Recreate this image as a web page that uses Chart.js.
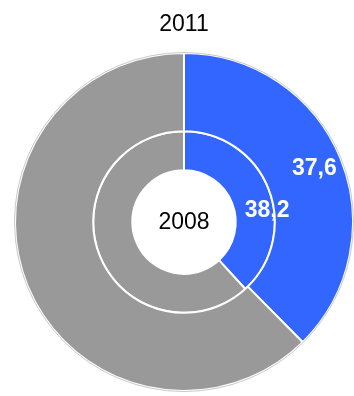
<!DOCTYPE html>
<html>
<head>
<meta charset="utf-8">
<script src="https://cdn.jsdelivr.net/npm/chart.js@4/dist/chart.umd.min.js"></script>
<style>
  html, body { margin: 0; padding: 0; background: #fff; }
  #wrap { width: 354px; height: 396px; }
</style>
</head>
<body>
<div id="wrap"><canvas id="ringChart"></canvas></div>
<script>
const labels = ['Share', 'Rest'];
const values2011 = [37.6, 62.4];
const values2008 = [38.2, 61.8];
const shownLabels = ['37,6', '38,2'];

// label placement per ring: [angle fraction of slice, radial fraction of ring]
const labelPlace = [[0.5, 0.64], [0.6, 0.82]];

const ringLabels = {
    id: 'ringLabels',
    afterDatasetsDraw(chart) {
        const c = chart.ctx;
        c.save();
        // faint outline round the outer ring
        const first = chart.getDatasetMeta(0).data[0];
        c.strokeStyle = '#c8c8c8';
        c.lineWidth = 1;
        c.beginPath();
        c.arc(first.x, first.y, first.outerRadius + 0.5, 0, Math.PI * 2);
        c.stroke();

        c.fillStyle = '#fff';
        c.font = 'bold 23px "Liberation Sans", Arial, sans-serif';
        c.textAlign = 'center';
        c.textBaseline = 'middle';
        [0, 1].forEach(i => {
            const arc = chart.getDatasetMeta(i).data[0];
            const p = labelPlace[i];
            const a = arc.startAngle + (arc.endAngle - arc.startAngle) * p[0];
            const r = arc.innerRadius + (arc.outerRadius - arc.innerRadius) * p[1];
            c.fillText(shownLabels[i], arc.x + Math.cos(a) * r, arc.y + Math.sin(a) * r);
        });

        // year in the hole
        c.fillStyle = '#000';
        c.font = '23px "Liberation Sans", Arial, sans-serif';
        c.fillText('2008', first.x, first.y + 1);
        c.restore();
    }
};

const ctx = document.getElementById('ringChart').getContext('2d');

const ringChart = new Chart(ctx, {
    type: 'doughnut',
    data: {
        labels: labels,
        datasets: [
            {
                label: '2011',
                data: values2011,
                backgroundColor: ['#3366ff', '#999999'],
                borderColor: '#ffffff',
                borderWidth: 2,
                weight: 2
            },
            {
                label: '2008',
                data: values2008,
                backgroundColor: ['#3366ff', '#999999'],
                borderColor: '#ffffff',
                borderWidth: 2,
                weight: 1
            }
        ]
    },
    options: {
        responsive: true,
        maintainAspectRatio: false,
        animation: false,
        cutout: '30.6%',
        layout: {
            padding: { left: 14, right: 0, top: 0, bottom: 4 }
        },
        plugins: {
            legend: { display: false },
            tooltip: { enabled: false },
            title: {
                display: true,
                text: '2011',
                color: '#000',
                font: { family: '"Liberation Sans", Arial, sans-serif', size: 23, weight: 'normal' },
                padding: { top: 11, bottom: 13.4 }
            }
        }
    },
    plugins: [ringLabels]
});
</script>
</body>
</html>
